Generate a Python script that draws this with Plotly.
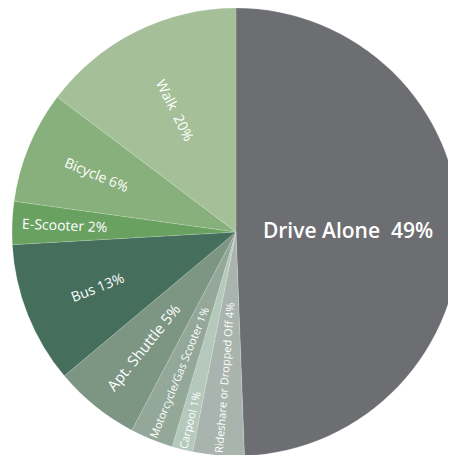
import plotly.graph_objects as go

# Categories (clockwise from 12 o'clock)
categories = ["Drive Alone", "Rideshare or Dropped Off", "Carpool", "Motorcycle/Gas Scooter",
              "Apt. Shuttle", "Bus", "E-Scooter", "Bicycle", "Walk"]
# Labelled shares (%)
labelled_pct = [49, 4, 1, 1, 5, 13, 2, 6, 20]
# Slice sizes as drawn in the picture (percent of circle, estimated from angles)
slice_values = [49.4, 3.7, 1.5, 3.1, 6.2, 10.2, 3.1, 8.1, 14.7]
colors = ["#6d6e72", "#a8b4ad", "#b4c9bc", "#93a899", "#7d9684",
          "#456e5c", "#69a161", "#88b07c", "#a5bf98"]
font_sizes = [21, 12, 11, 11, 15, 14, 14, 14, 14]

sp = "\u00a0"
radial_text = [""] + [
    (f"{c}{sp}{sp}{p}%" if c == "Walk" else f"{c} {p}%")
    for c, p in zip(categories[1:], labelled_pct[1:])
]
horiz_text = [f"{categories[0]}{sp}{sp}{labelled_pct[0]}%"] + [""] * (len(categories) - 1)

domain = dict(x=[0, 1], y=[0.0154, 1])

fig = go.Figure()
fig.add_trace(go.Pie(
    labels=categories, values=slice_values, sort=False, direction="clockwise",
    rotation=0, domain=domain,
    marker=dict(colors=colors, line=dict(color="rgba(255,255,255,0.25)", width=0.6)),
    text=radial_text, textinfo="text", textposition="inside",
    insidetextorientation="radial",
    textfont=dict(family="Open Sans", color="white", size=font_sizes),
    hoverinfo="skip",
))
fig.add_trace(go.Pie(
    labels=categories, values=slice_values, sort=False, direction="clockwise",
    rotation=0, domain=domain,
    marker=dict(colors=["rgba(0,0,0,0)"] * len(categories), line=dict(width=0)),
    text=horiz_text, textinfo="text", textposition="inside",
    insidetextorientation="horizontal",
    textfont=dict(family="Open Sans", color="white", size=font_sizes[0], weight=600),
    hoverinfo="skip",
))
fig.update_layout(
    width=456, height=455, margin=dict(l=0, r=0, t=0, b=0),
    paper_bgcolor="white", plot_bgcolor="white", showlegend=False,
    uniformtext=dict(mode=False),
)
fig.write_html("out.html")
